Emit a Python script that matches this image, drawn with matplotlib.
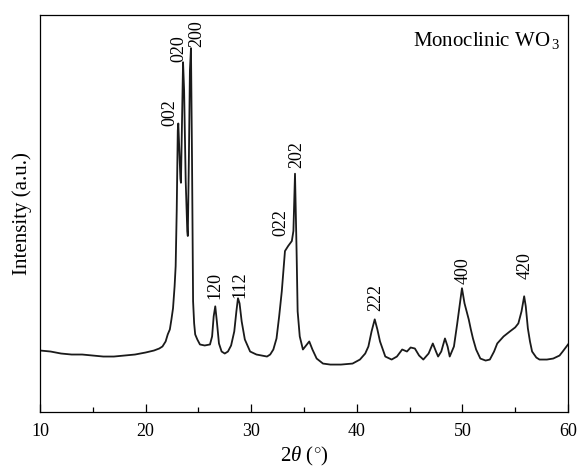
import numpy as np
import matplotlib
matplotlib.use('Agg')
import matplotlib.pyplot as plt
from matplotlib.ticker import MultipleLocator

# Perfil DRX (2theta en grados, intensidad en u.a.)
two_theta = [10.0, 11.0, 12.0, 13.0, 14.0, 15.0, 16.0, 17.0, 18.0, 19.0,
             20.0, 20.8, 21.3, 21.6, 21.9, 22.1, 22.3, 22.45, 22.6, 22.75,
             22.85, 22.95, 23.05, 23.1, 23.2, 23.3, 23.35, 23.45, 23.55, 23.65,
             23.8, 23.95, 24.0, 24.1, 24.2, 24.3, 24.4, 24.5, 24.6, 24.7,
             24.9, 25.15, 25.6, 26.1, 26.3, 26.45, 26.6, 26.75, 26.95, 27.2,
             27.5, 27.8, 28.1, 28.4, 28.6, 28.75, 28.9, 29.1, 29.4, 29.9,
             30.5, 31.0, 31.5, 31.8, 32.1, 32.4, 32.65, 32.9, 33.05, 33.2,
             33.5, 33.85, 34.0, 34.15, 34.3, 34.4, 34.6, 34.9, 35.2, 35.5,
             35.8, 36.2, 36.8, 37.5, 38.5, 39.6, 40.3, 40.8, 41.1, 41.4,
             41.7, 41.95, 42.2, 42.7, 43.3, 43.8, 44.3, 44.75, 45.1, 45.5,
             45.9, 46.3, 46.8, 47.2, 47.5, 47.7, 48.0, 48.35, 48.6, 48.8,
             49.2, 49.5, 49.8, 49.96, 50.2, 50.4, 50.6, 50.8, 51.0, 51.3,
             51.7, 52.2, 52.6, 53.0, 53.3, 53.9, 54.5, 55.0, 55.3, 55.6,
             55.85, 56.0, 56.2, 56.4, 56.6, 57.0, 57.3, 58.0, 58.6, 59.2,
             59.5, 60.0]
intensity = [61, 60, 58, 57, 57, 56, 55, 55, 56, 57,
             59, 61, 63, 65, 70, 77, 82, 92, 103, 125,
             145, 200, 280, 287, 260, 232, 228, 290, 348, 320,
             230, 180, 175, 250, 340, 362, 250, 110, 88, 77,
             72, 67, 66, 67, 75, 95, 105, 90, 68, 60,
             58, 60, 66, 80, 100, 113, 108, 90, 72, 60,
             57, 56, 55, 57, 62, 73, 95, 120, 140, 160,
             165, 170, 180, 237, 160, 100, 75, 62, 66, 70,
             62, 53, 48, 47, 47, 48, 52, 58, 65, 80,
             92, 82, 70, 55, 52, 55, 62, 60, 64, 63,
             56, 52, 58, 68, 60, 55, 60, 73, 65, 55,
             65, 87, 110, 123, 108, 100, 92, 82, 73, 62,
             53, 51, 52, 60, 68, 75, 80, 84, 88, 100,
             115, 105, 83, 70, 60, 54, 52, 52, 53, 56,
             60, 67]

# Indices de Miller y donde se escriben
hkl = ['002', '020', '200', '120', '112', '022', '202', '222', '400', '420']
hkl_x = [22.3, 23.15, 24.85, 26.6, 28.9, 32.8, 34.3, 41.8, 50.05, 55.9]
hkl_y = [285, 348, 363, 112, 113, 175, 243, 100, 127, 132]

plt.rcParams['font.family'] = ['Liberation Serif', 'DejaVu Serif']
plt.rcParams['mathtext.fontset'] = 'custom'
plt.rcParams['mathtext.rm'] = 'Liberation Serif'
plt.rcParams['mathtext.it'] = 'Liberation Serif:italic'

fig = plt.figure(figsize=(5.79, 4.69), dpi=100)
ax = fig.add_axes([0.069, 0.122, 0.912, 0.846])

ax.plot(two_theta, intensity, color='#1a1a1a', lw=1.3)

for lab, xx, yy in zip(hkl, hkl_x, hkl_y):
    ax.text(xx, yy, lab, rotation=90, ha='center', va='bottom', fontsize=13)

ax.text(0.985, 0.922, r'Monoclinic WO$_{\,3}$', transform=ax.transAxes,
        ha='right', va='baseline', fontsize=15)

ax.set_xlim(10, 60)
ax.set_ylim(0, 395)
ax.xaxis.set_major_locator(MultipleLocator(10))
ax.xaxis.set_minor_locator(MultipleLocator(5))
ax.tick_params(axis='x', which='major', direction='in', length=6, width=0.9,
               labelsize=13, pad=8)
ax.tick_params(axis='x', which='minor', direction='in', length=3.5, width=0.9)
ax.set_yticks([])
for s in ax.spines.values():
    s.set_linewidth(0.9)

ax.set_xlabel(r'2$\it{\theta}$ ($^{\circ}$)', fontsize=15, labelpad=4)
ax.set_ylabel('Intensity (a.u.)', fontsize=15, labelpad=6)

fig.savefig('out.png', dpi=100)
